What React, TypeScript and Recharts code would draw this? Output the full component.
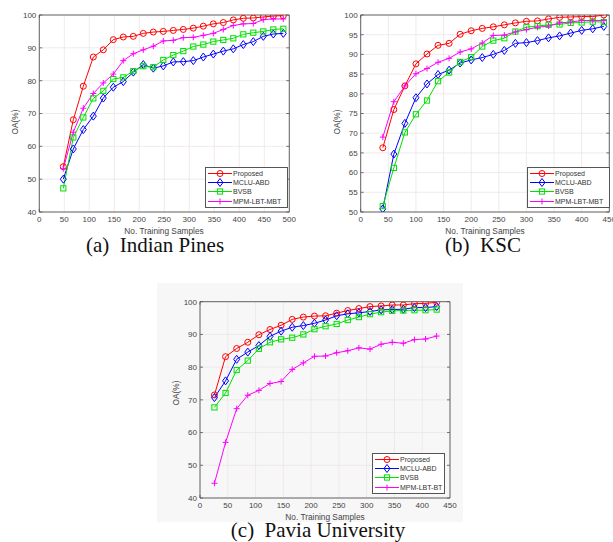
import React from 'react';
import { LineChart, Line, XAxis, YAxis, CartesianGrid, ReferenceArea } from 'recharts';

// (a) Indian Pines
const indianX = [48, 68, 88, 108, 128, 148, 168, 188, 208, 228, 248, 268, 288, 308, 328, 348, 368, 388, 408, 428, 448, 468, 488];
const indianProposed = [53.8, 68.1, 78.3, 87.2, 89.4, 92.5, 93.3, 93.5, 94.4, 94.8, 95.0, 95.3, 95.6, 96.0, 96.6, 97.3, 97.7, 98.5, 99.0, 99.1, 99.4, 99.7, 99.8];
const indianMclu = [50.0, 59.2, 65.1, 69.2, 74.7, 78.0, 79.7, 82.6, 84.9, 83.8, 84.5, 85.7, 85.8, 86.1, 87.2, 88.1, 89.0, 89.7, 91.0, 91.9, 93.5, 94.2, 94.4];
const indianBvsb = [47.2, 62.7, 68.8, 74.6, 76.9, 80.5, 81.0, 82.9, 84.4, 84.1, 86.3, 87.8, 89.0, 90.4, 91.0, 91.9, 92.4, 92.9, 94.1, 94.6, 95.0, 95.6, 95.8];
const indianMpm = [53.2, 64.3, 71.6, 76.1, 79.3, 82.0, 86.1, 88.2, 89.4, 90.5, 92.1, 92.3, 93.1, 93.2, 93.8, 94.4, 95.6, 96.8, 97.3, 97.4, 98.6, 98.8, 98.8];

// (b) KSC
const kscX = [40, 60, 80, 100, 120, 140, 160, 180, 200, 220, 240, 260, 280, 300, 320, 340, 360, 380, 400, 420, 440];
const kscProposed = [66.3, 76.0, 82.0, 87.6, 90.1, 92.3, 92.8, 95.1, 96.0, 96.6, 97.0, 97.5, 98.0, 98.4, 98.5, 99.0, 99.4, 99.5, 99.6, 99.6, 100.0];
const kscMclu = [50.8, 64.7, 72.5, 79.0, 82.5, 84.9, 86.0, 87.8, 88.6, 89.2, 90.0, 91.0, 92.8, 93.0, 93.5, 94.2, 94.7, 95.4, 96.1, 96.5, 97.1];
const kscBvsb = [51.5, 61.2, 70.2, 74.8, 78.3, 83.2, 85.4, 88.1, 89.3, 92.0, 93.5, 94.1, 95.8, 96.9, 97.2, 97.5, 97.6, 98.0, 98.1, 98.3, 98.2];
const kscMpm = [69.0, 78.0, 82.0, 85.1, 86.4, 88.0, 89.0, 90.6, 91.4, 92.9, 94.8, 94.9, 95.7, 96.3, 96.9, 97.2, 98.0, 98.2, 98.6, 98.6, 98.6];

// (c) Pavia University
const paviaX = [26, 46, 66, 86, 106, 126, 146, 166, 186, 206, 226, 246, 266, 286, 306, 326, 346, 366, 386, 406, 426];
const paviaProposed = [71.5, 83.2, 85.7, 87.6, 89.9, 91.5, 92.8, 94.6, 95.3, 95.6, 95.7, 96.5, 97.3, 97.9, 98.5, 98.7, 99.0, 99.0, 99.4, 99.5, 99.8];
const paviaMclu = [70.7, 75.8, 82.4, 84.6, 86.6, 89.4, 91.0, 92.2, 92.7, 93.4, 94.4, 95.7, 96.3, 96.6, 97.0, 97.5, 97.6, 97.7, 98.2, 98.2, 98.5];
const paviaBvsb = [67.7, 72.1, 79.1, 82.0, 85.6, 87.6, 88.5, 89.0, 90.0, 91.6, 92.5, 93.2, 94.4, 95.3, 96.2, 96.8, 97.2, 97.3, 97.4, 97.4, 97.6];
const paviaMpm = [44.5, 57.0, 67.3, 71.4, 72.9, 75.0, 75.6, 79.3, 81.3, 83.3, 83.4, 84.4, 85.0, 85.9, 85.5, 87.0, 87.6, 87.3, 88.4, 88.6, 89.5];

const ticks50 = [0, 50, 100, 150, 200, 250, 300, 350, 400, 450, 500];
const ticks45 = [0, 50, 100, 150, 200, 250, 300, 350, 400, 450];
const yTicks40 = [40, 50, 60, 70, 80, 90, 100];
const yTicks50 = [50, 55, 60, 65, 70, 75, 80, 85, 90, 95, 100];

const FONT = '"Liberation Sans", Arial, sans-serif';
const SERIF = '"Liberation Serif", "Times New Roman", serif';
const TEXT = '#444';
const BOX = '#555';
const GRID = '#eee4e8';

type Shape = 'circle' | 'diamond' | 'square' | 'plus';

const mark = (shape: Shape, color: string, cx: number, cy: number, key?: any) => {
  if (shape === 'circle') return <circle key={key} cx={cx} cy={cy} r={3} fill="none" stroke={color} strokeWidth={1} />;
  if (shape === 'diamond')
    return (
      <polygon key={key} points={`${cx},${cy - 4} ${cx + 3},${cy} ${cx},${cy + 4} ${cx - 3},${cy}`} fill="none" stroke={color} strokeWidth={1} />
    );
  if (shape === 'square') return <rect key={key} x={cx - 2.6} y={cy - 2.6} width={5.2} height={5.2} fill="none" stroke={color} strokeWidth={1} />;
  return <path key={key} d={`M${cx - 3},${cy}H${cx + 3}M${cx},${cy - 3}V${cy + 3}`} stroke={color} strokeWidth={1} />;
};

const makeDot = (shape: Shape, color: string) => (props: any) => {
  const { cx, cy, index } = props;
  if (cx == null || cy == null) return <g key={index} />;
  return mark(shape, color, cx, cy, index);
};

const hideTick = () => <g />;

interface Series {
  key: string;
  name: string;
  color: string;
  shape: Shape;
}

const baseSeries = (lastName: string): Series[] => [
  { key: 'proposed', name: 'Proposed', color: '#ff0000', shape: 'circle' },
  { key: 'mclu', name: 'MCLU-ABD', color: '#0000ff', shape: 'diamond' },
  { key: 'bvsb', name: 'BVSB', color: '#00e000', shape: 'square' },
  { key: 'mpm', name: lastName, color: '#ff00ff', shape: 'plus' },
];

const rows = (xs: number[], a: number[], b: number[], c: number[], d: number[]) =>
  xs.map((x, i) => ({ x, proposed: a[i], mclu: b[i], bvsb: c[i], mpm: d[i] }));

interface PanelProps {
  left: number;
  top: number;
  width: number;
  height: number;
  margin: { top: number; right: number; bottom: number; left: number };
  yWidth: number;
  xDomain: [number, number];
  yDomain: [number, number];
  xTicks: number[];
  yTicks: number[];
  data: any[];
  series: Series[];
}

const Panel: React.FC<PanelProps> = ({ left, top, width, height, margin, yWidth, xDomain, yDomain, xTicks, yTicks, data, series }) => {
  const tickStyle = { fontSize: 8, fill: TEXT, fontFamily: FONT };
  return (
    <div style={{ position: 'absolute', left, top, width, height }}>
      <LineChart width={width} height={height} data={data} margin={margin}>
        <CartesianGrid stroke={GRID} strokeWidth={0.8} />
        <XAxis
          dataKey="x"
          type="number"
          domain={xDomain}
          ticks={xTicks}
          allowDataOverflow
          height={25}
          axisLine={false}
          tickLine={false}
          tickSize={0}
          tickMargin={4}
          tick={tickStyle}
          interval={0}
        />
        <YAxis
          type="number"
          domain={yDomain}
          ticks={yTicks}
          allowDataOverflow
          width={yWidth}
          axisLine={false}
          tickLine={false}
          tickSize={0}
          tickMargin={3}
          tick={tickStyle}
          interval={0}
        />
        <XAxis xAxisId="bm" orientation="bottom" mirror type="number" domain={xDomain} ticks={xTicks} allowDataOverflow axisLine={false} tickSize={3} tickLine={{ stroke: BOX, strokeWidth: 0.8 }} tick={hideTick} interval={0} />
        <XAxis xAxisId="tm" orientation="top" mirror type="number" domain={xDomain} ticks={xTicks} allowDataOverflow axisLine={false} tickSize={3} tickLine={{ stroke: BOX, strokeWidth: 0.8 }} tick={hideTick} interval={0} />
        <YAxis yAxisId="lm" orientation="left" mirror type="number" domain={yDomain} ticks={yTicks} allowDataOverflow axisLine={false} tickSize={3} tickLine={{ stroke: BOX, strokeWidth: 0.8 }} tick={hideTick} interval={0} />
        <YAxis yAxisId="rm" orientation="right" mirror type="number" domain={yDomain} ticks={yTicks} allowDataOverflow axisLine={false} tickSize={3} tickLine={{ stroke: BOX, strokeWidth: 0.8 }} tick={hideTick} interval={0} />
        <ReferenceArea x1={xDomain[0]} x2={xDomain[1]} y1={yDomain[0]} y2={yDomain[1]} fill="none" fillOpacity={0} stroke={BOX} strokeWidth={0.9} />
        {series.map((s) => (
          <Line
            key={s.key}
            dataKey={s.key}
            name={s.name}
            type="linear"
            stroke={s.color}
            strokeWidth={1}
            dot={makeDot(s.shape, s.color)}
            activeDot={false}
            isAnimationActive={false}
          />
        ))}
      </LineChart>
    </div>
  );
};

const LegendBox: React.FC<{ left: number; top: number; width: number; series: Series[] }> = ({ left, top, width, series }) => (
  <div
    style={{
      position: 'absolute',
      left,
      top,
      width,
      background: '#fff',
      border: `0.8px solid ${BOX}`,
      padding: '1px 0',
      fontFamily: FONT,
      fontSize: 7,
      color: '#333',
    }}
  >
    {series.map((s) => (
      <div key={s.key} style={{ display: 'flex', alignItems: 'center', height: 9.2 }}>
        <svg width={27} height={9} style={{ flex: 'none' }}>
          <line x1={2} x2={26} y1={4.5} y2={4.5} stroke={s.color} strokeWidth={1} />
          {mark(s.shape, s.color, 14, 4.5)}
        </svg>
        <span style={{ whiteSpace: 'nowrap', lineHeight: '9px' }}>{s.name}</span>
      </div>
    ))}
  </div>
);

const XTitle: React.FC<{ cx: number; cy: number }> = ({ cx, cy }) => (
  <div style={{ position: 'absolute', left: cx - 60, top: cy - 5, width: 120, textAlign: 'center', fontFamily: FONT, fontSize: 8.3, lineHeight: '10px', color: TEXT }}>
    No. Training Samples
  </div>
);

const YTitle: React.FC<{ cx: number; cy: number }> = ({ cx, cy }) => (
  <div
    style={{
      position: 'absolute',
      left: cx - 20,
      top: cy - 5,
      width: 40,
      textAlign: 'center',
      fontFamily: FONT,
      fontSize: 8.3,
      lineHeight: '10px',
      color: TEXT,
      transform: 'rotate(-90deg)',
    }}
  >
    OA(%)
  </div>
);

const Caption: React.FC<{ cx: number; top: number; text: string }> = ({ cx, top, text }) => (
  <div style={{ position: 'absolute', left: cx - 150, top, width: 300, textAlign: 'center', fontFamily: SERIF, fontSize: 21, lineHeight: '17px', color: '#111', whiteSpace: 'pre' }}>
    {text}
  </div>
);

export default function App() {
  const indianData = rows(indianX, indianProposed, indianMclu, indianBvsb, indianMpm);
  const kscData = rows(kscX, kscProposed, kscMclu, kscBvsb, kscMpm);
  const paviaData = rows(paviaX, paviaProposed, paviaMclu, paviaBvsb, paviaMpm);
  const seriesAB = baseSeries('MPM-LBT-MBT');
  const seriesC = baseSeries('MPM-LBT-BT');

  return (
    <div style={{ position: 'absolute', left: 0, top: 0, width: 613, height: 542, overflow: 'hidden', background: '#fff' }}>
      <div style={{ position: 'absolute', left: 157, top: 283, width: 306, height: 239, background: '#f7f7f7' }} />

      <Panel
        left={0}
        top={0}
        width={300}
        height={250}
        margin={{ top: 15, right: 10.7, bottom: 13, left: 0 }}
        yWidth={39.3}
        xDomain={[0, 500]}
        yDomain={[40, 100]}
        xTicks={ticks50}
        yTicks={yTicks40}
        data={indianData}
        series={seriesAB}
      />
      <Panel
        left={310}
        top={0}
        width={303}
        height={250}
        margin={{ top: 15, right: 3.7, bottom: 13, left: 0 }}
        yWidth={50.7}
        xDomain={[0, 450]}
        yDomain={[50, 100]}
        xTicks={ticks45}
        yTicks={yTicks50}
        data={kscData}
        series={seriesAB}
      />
      <Panel
        left={160}
        top={285}
        width={300}
        height={250}
        margin={{ top: 16.7, right: 10, bottom: 12, left: 0 }}
        yWidth={40}
        xDomain={[0, 450]}
        yDomain={[40, 100]}
        xTicks={ticks45}
        yTicks={yTicks40}
        data={paviaData}
        series={seriesC}
      />

      <LegendBox left={205} top={167} width={81} series={seriesAB} />
      <LegendBox left={527} top={167} width={81} series={seriesAB} />
      <LegendBox left={372} top={453} width={71} series={seriesC} />

      <XTitle cx={164} cy={231} />
      <XTitle cx={485} cy={231} />
      <XTitle cx={325} cy={517} />
      <YTitle cx={15} cy={122} />
      <YTitle cx={337} cy={122} />
      <YTitle cx={176} cy={393} />

      <Caption cx={155} top={237} text="(a)  Indian Pines" />
      <Caption cx={483} top={237} text="(b)  KSC" />
      <Caption cx={318} top={522} text="(c)  Pavia University" />
    </div>
  );
}
